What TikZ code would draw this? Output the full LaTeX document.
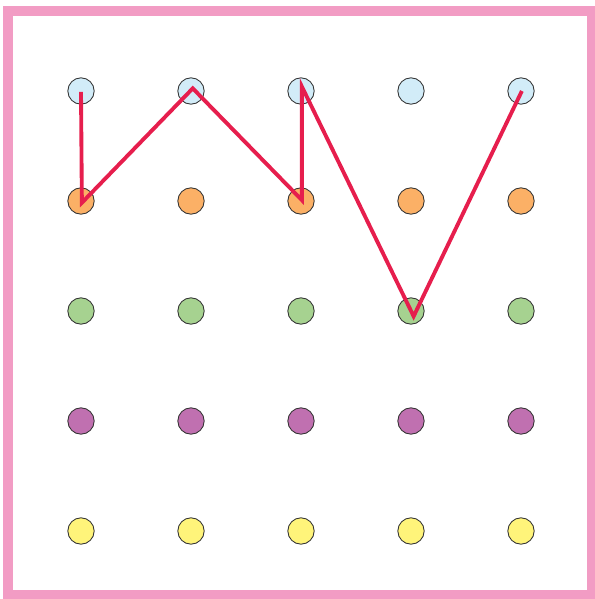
\documentclass[tikz,border=0pt]{standalone}
\usepackage{tikz}

\definecolor{framepink}{HTML}{F29CC4}
\definecolor{pathred}{HTML}{E61E4D}
\definecolor{rowA}{HTML}{D2ECF8}
\definecolor{rowB}{HTML}{FBB066}
\definecolor{rowC}{HTML}{A6D290}
\definecolor{rowD}{HTML}{C070B0}
\definecolor{rowE}{HTML}{FFF47A}

\tikzset{
    peg/.style={circle, draw=black!80, line width=0.5pt, minimum size=15pt, inner sep=0pt},
    route/.style={pathred, line width=2.2pt, line join=miter}
}

\begin{document}
\begin{tikzpicture}[x=0.02cm, y=-0.02cm]
    % 画布大小 (595 x 599)
    \useasboundingbox (0,0) rectangle (595,599);

    % 粉色边框
    \draw[framepink, line width=5.6pt] (8,11) rectangle (592,595);

    % 5 x 5 钉板
    \foreach \c [count=\j] in {rowA,rowB,rowC,rowD,rowE}
        \foreach \i in {1,...,5}
            \node[peg, fill=\c] (p\j\i) at ({81+110*(\i-1)},{91+110*(\j-1)}) {};

    % 折线的转折点
    \coordinate (S) at ([yshift=-0.5pt]p11.center);
    \coordinate (T1) at ([xshift=0.5pt,yshift=-1pt]p21.center);
    \coordinate (T2) at ([xshift=1pt,yshift=1.5pt]p12.center);
    \coordinate (T3) at ([xshift=0.5pt,yshift=0.5pt]p23.center);
    \coordinate (T4) at ([xshift=0.5pt,yshift=2.5pt]p13.center);
    \coordinate (T5) at ([xshift=1.5pt,yshift=-3pt]p34.center);
    \coordinate (E) at ([xshift=0.5pt]p15.center);

    % 红色折线
    \draw[route] (S) -- (T1) -- (T2) -- (T3) -- (T4) -- (T5) -- (E);
\end{tikzpicture}
\end{document}
